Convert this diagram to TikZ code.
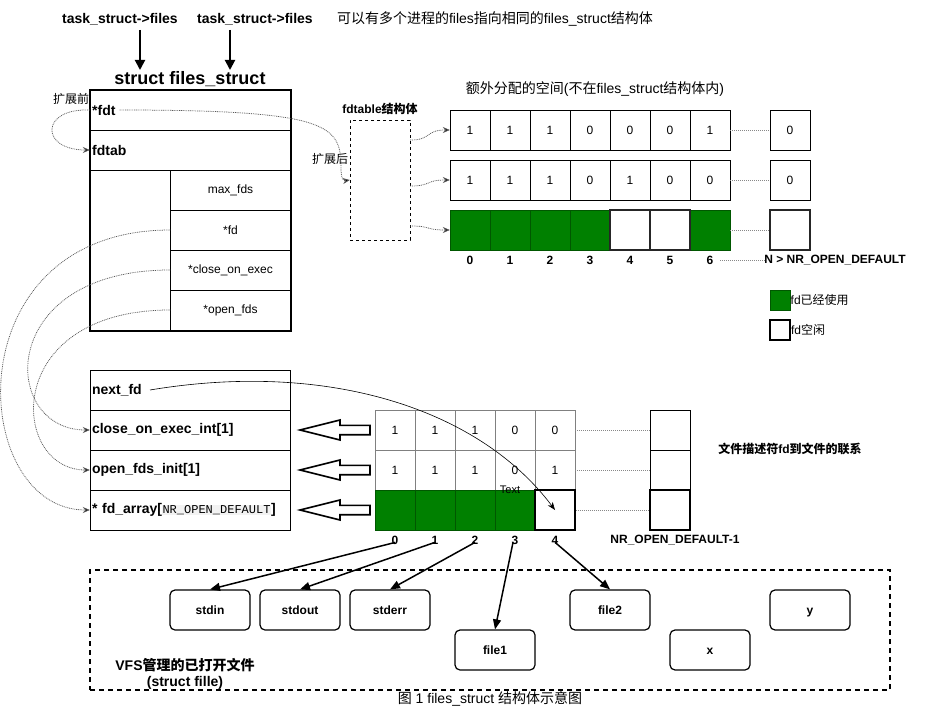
\documentclass[tikz,border=0pt]{standalone}
\usepackage{fontspec}
\setmainfont{Liberation Sans}
\setmonofont{Liberation Mono}
\newfontfamily\cjk{Noto Sans CJK SC}
\usetikzlibrary{arrows.meta}
\definecolor{fdgreen}{HTML}{008000}
\definecolor{fdgreenb}{HTML}{005700}
\definecolor{dotgray}{HTML}{888888}
\definecolor{cellgray}{HTML}{808080}
\definecolor{monobg}{HTML}{F2F2F2}
\tikzset{
  every node/.style={font=\fontsize{12}{14}\selectfont, inner sep=0pt},
  cell/.style={draw, minimum width=40, minimum height=40},
  gcell/.style={cell, fill=fdgreen, draw=fdgreenb},
  wcell/.style={cell, draw=black!85, line width=1.6},
  lcell/.style={cell, draw=cellgray},
  rowbox/.style={draw, minimum height=40, text width=196, align=left, inner xsep=2, font=\fontsize{14}{16}\selectfont\bfseries},
  subcell/.style={draw, minimum width=120, minimum height=40},
  idx/.style={font=\fontsize{12}{14}\selectfont\bfseries},
  fileb/.style={draw, rounded corners=5, line width=1.2, minimum width=80, minimum height=40, text height=9, text depth=0, font=\fontsize{12}{14}\selectfont\bfseries},
  dotlink/.style={draw=black!65, line width=0.75, dash pattern=on 0.9 off 0.9, -{Stealth[length=7,width=6,fill=black]}},
  grayline/.style={draw=dotgray, line width=0.9, dash pattern=on 1 off 1},
  bigarrow/.style={line width=2, -{Triangle[length=10,width=10]}},
  fdarrow/.style={line width=1.5, -{Triangle[length=10,width=8]}},
  blockarr/.style={draw, line width=1.6, fill=white},
  bt/.style={font=\fontsize{14}{16}\selectfont\bfseries}
}
\newcommand{\zh}[1]{{\cjk #1}}
\begin{document}
\begin{tikzpicture}[x=1pt,y=-1pt]
\useasboundingbox (0,0) rectangle (931,711);

% top labels
\node[bt] (t1) at (120,19) {task\_struct->files};
\node[bt] (t2) at (255,19) {task\_struct->files};
\node[font=\fontsize{14}{16}\selectfont] (t3) at (495,19) {\zh{可以有多个进程的}files\zh{指向相同的}files\_struct\zh{结构体}};
\coordinate (h1) at (140,70);
\coordinate (h2) at (230,70);
\draw[bigarrow] (140,30) -- (h1);
\draw[bigarrow] (230,30) -- (h2);
\node[font=\fontsize{18}{20}\selectfont\bfseries] (title) at (190,79) {struct files\_struct};

% files_struct box
\node[draw, minimum width=201, minimum height=40] (fdt) at (190.5,110) {};
\node[bt, anchor=west] (fdtl) at (92,110) {*fdt};
\node[draw, minimum width=201, minimum height=40] (fdtab) at (190.5,150) {};
\node[bt, anchor=west] (fdtabl) at (92,150) {fdtab};
\node[subcell] (maxfds) at (230.5,190) {max\_fds};
\node[subcell] (pfd) at (230.5,230) {*fd};
\node[subcell] (pcoe) at (230.5,270) {*close\_on\_exec};
\node[subcell] (pofd) at (230.5,310) {*open\_fds};
\node[draw, line width=2, minimum width=201, minimum height=241] (fsbox) at (190.5,210.5) {};

\node[font=\fontsize{12}{14}\selectfont] (kzq) at (71,99) {\zh{扩展前}};
\node[font=\fontsize{12}{14}\selectfont] (kzh) at (330,159) {\zh{扩展后}};

% fdtable box
\node[font=\fontsize{12}{14}\selectfont\bfseries] (fdtlab) at (380,109) {fdtable\zh{结构体}};
\node[draw, dashed, minimum width=60, minimum height=120] (fdtable) at (380,180) {};

\node[font=\fontsize{14}{16}\selectfont] (extra) at (595,89) {\zh{额外分配的空间}(\zh{不在}files\_struct\zh{结构体内})};

% top arrays
\foreach \v [count=\i from 0] in {1,1,1,0,0,0,1}
  \node[cell] (a\i) at (470+40*\i,130) {\v};
\node[cell] (ax) at (790,130) {0};
\foreach \v [count=\i from 0] in {1,1,1,0,1,0,0}
  \node[cell] (b\i) at (470+40*\i,180) {\v};
\node[cell] (bx) at (790,180) {0};
\foreach \i in {0,1,2,3,6}
  \node[gcell] (c\i) at (470+40*\i,230) {};
\foreach \i in {4,5}
  \node[wcell] (c\i) at (470+40*\i,230) {};
\node[wcell] (cx) at (790,230) {};
\draw[grayline] (a6.east) -- (ax.west);
\draw[grayline] (b6.east) -- (bx.west);
\draw[grayline] (c6.east) -- (cx.west);
\foreach \i in {0,...,6}
  \node[idx] (n\i) at (470+40*\i,260) {\i};
\node[idx] (nN) at (835,260) {N > NR\_OPEN\_DEFAULT};
\draw[grayline] (720,260) -- (nN.west);

% legend
\node[gcell, minimum width=20, minimum height=20, line width=1] (lg) at (780,300) {};
\node[anchor=west] (lgt) at (lg.east) {fd\zh{已经使用}};
\node[cell, minimum width=20, minimum height=20, line width=1.6] (lw) at (780,330) {};
\node[anchor=west] (lwt) at (lw.east) {fd\zh{空闲}};

% fdtable links
\draw[dotlink] (fdtable.east |- 0,140) .. controls (432,140) and (425,130) .. (a0.west);
\draw[dotlink] (fdtable.east |- 0,186) .. controls (432,186) and (425,180) .. (b0.west);
\draw[dotlink] (fdtable.east |- 0,226) .. controls (432,226) and (425,230) .. (c0.west);

% expansion curves
\draw[dotlink] (fdt.west) .. controls (40,108) and (40,150) .. (fdtab.west);
\draw[dotlink] ([xshift=4]fdtl.east) .. controls (330,110) and (341,125) .. (341,168) .. controls (341,178) and (343,181) .. (fdtable.west);

% lower struct
\node[rowbox, draw=black] (nextfd) at (190,390) {next\_fd};
\node[rowbox] (coe) at (190,430) {close\_on\_exec\_int[1]};
\node[rowbox] (ofi) at (190,470) {open\_fds\_init[1]};
\node[rowbox] (fda) at (190,510) {* fd\_array[{\fboxsep=0.5pt\colorbox{monobg}{\fontsize{12}{14}\selectfont\mdseries\ttfamily NR\_OPEN\_DEFAULT}}]};

\draw[dotlink] (pfd.west) .. controls (-48,230) and (-32,510) .. (fda.west);
\draw[dotlink] (pcoe.west) .. controls (-5,270) and (0,430) .. (coe.west);
\draw[dotlink] (pofd.west) .. controls (0,310) and (10,470) .. (ofi.west);

% lower arrays
\foreach \v [count=\i from 0] in {1,1,1,0,0}
  \node[lcell] (d\i) at (395+40*\i,430) {\v};
\foreach \v [count=\i from 0] in {1,1,1,0,1}
  \node[lcell] (e\i) at (395+40*\i,470) {\v};
\foreach \i in {0,1,2,3}
  \node[gcell] (f\i) at (395+40*\i,510) {};
\node[wcell, draw=black] (f4) at (555,510) {};
\node[cell] (dx) at (670,430) {};
\node[cell] (ex) at (670,470) {};
\node[wcell, draw=black] (fx) at (670,510) {};
\draw[grayline] (d4.east) -- (dx.west);
\draw[grayline] (e4.east) -- (ex.west);
\draw[grayline] (f4.east) -- (fx.west);
\foreach \i in {0,...,4}
  \node[idx] (m\i) at (395+40*\i,540) {\i};
\node[idx] (mN) at (675,540) {NR\_OPEN\_DEFAULT-1};
\node[font=\fontsize{12}{14}\selectfont\bfseries] (rel) at (790,449) {\zh{文件描述符}fd\zh{到文件的联系}};

% block arrows
\foreach \y in {430,470,510}
  \draw[blockarr] (300,\y) -- (340,\y-10) -- (340,\y-4.7) -- (370,\y-4.7) -- (370,\y+4.7) -- (340,\y+4.7) -- (340,\y+10) -- cycle;

% next_fd curve
\node[font=\fontsize{11}{13}\selectfont] (txt) at (510,490) {Text};
\draw[-{Stealth[length=8,width=6]}, line width=0.6] (150,390) .. controls (330,360) and (480,410) .. (f4.center);

% VFS box
\node[draw, dashed, line width=1.5, dash pattern=on 5 off 4, minimum width=800, minimum height=120] (vfs) at (490,630) {};
\node[fileb] (stdin) at (210,610) {stdin};
\node[fileb] (stdout) at (300,610) {stdout};
\node[fileb] (stderr) at (390,610) {stderr};
\node[fileb] (file1) at (495,650) {file1};
\node[fileb] (file2) at (610,610) {file2};
\node[fileb] (fx1) at (710,650) {x};
\node[fileb] (fy) at (810,610) {y};
\node[bt, align=center] (vfsl) at (185,674) {VFS\zh{管理的已打开文件}\\(struct fille)};

\draw[fdarrow] ([yshift=2]m0.south) -- (stdin.north);
\draw[fdarrow] ([yshift=2]m1.south) -- (stdout.north);
\draw[fdarrow] ([yshift=2]m2.south) -- (stderr.north);
\draw[fdarrow] ([yshift=2,xshift=-2]m3.south) -- (file1.north);
\draw[fdarrow] ([yshift=2]m4.south) -- (file2.north);

\node[font=\fontsize{14}{16}\selectfont] (cap) at (490,699) {\zh{图} 1 files\_struct \zh{结构体示意图}};
\end{tikzpicture}
\end{document}
